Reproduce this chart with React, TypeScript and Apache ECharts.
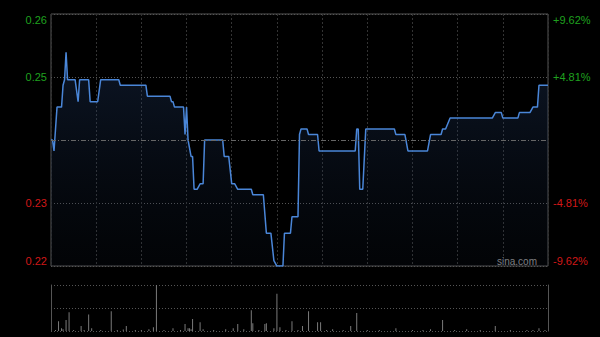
import React, { useEffect, useRef } from "react";
import * as echarts from "echarts";

// Price data: minute index from 9:30 (0..330, lunch break removed) and price
const minutes = [0, 1, 2, 4, 7, 8, 9, 10, 11, 16, 18, 19, 25, 26, 31, 33, 45, 46, 63, 64, 79, 80, 81, 82, 88, 89, 90, 91, 93, 94, 95, 97, 99, 101, 102, 114, 115, 118, 120, 122, 124, 133, 134, 141, 143, 146, 148, 150, 154, 155, 159, 160, 164, 165, 166, 170, 171, 177, 178, 202, 203, 204, 205, 207, 209, 228, 229, 235, 237, 250, 252, 259, 260, 262, 265, 293, 295, 299, 300, 310, 311, 318, 320, 323, 324, 330];
const prices = [0.239, 0.239, 0.237, 0.245, 0.245, 0.249, 0.25, 0.255, 0.25, 0.25, 0.246, 0.25, 0.25, 0.246, 0.246, 0.25, 0.25, 0.249, 0.249, 0.247, 0.247, 0.246, 0.246, 0.245, 0.245, 0.24, 0.245, 0.239, 0.236, 0.236, 0.23, 0.23, 0.231, 0.231, 0.239, 0.239, 0.236, 0.236, 0.231, 0.231, 0.23, 0.23, 0.229, 0.229, 0.222, 0.222, 0.217, 0.216, 0.216, 0.222, 0.222, 0.225, 0.225, 0.24, 0.241, 0.241, 0.24, 0.24, 0.237, 0.237, 0.241, 0.241, 0.23, 0.23, 0.241, 0.241, 0.24, 0.24, 0.237, 0.237, 0.24, 0.24, 0.241, 0.241, 0.243, 0.243, 0.244, 0.244, 0.243, 0.243, 0.244, 0.244, 0.245, 0.245, 0.249, 0.249];

// Volume data (relative units), minute index and volume
const volMinutes = [3, 5, 7, 8, 10, 12, 15, 20, 22, 25, 27, 33, 40, 44, 48, 50, 56, 60, 65, 68, 70, 75, 81, 86, 89, 91, 92, 93, 94, 99, 101, 108, 116, 121, 124, 128, 133, 134, 138, 142, 143, 148, 150, 152, 156, 160, 164, 167, 171, 177, 179, 183, 187, 194, 199, 203, 210, 218, 229, 240, 247, 252, 260, 268, 276, 285, 295, 305, 316, 320, 324, 328];
const volumes = [2, 21, 6, 4, 24, 41, 2, 11, 2, 36, 6, 2, 43, 2, 3, 11, 2, 2, 4, 8, 100, 2, 6, 2, 15, 6, 6, 4, 26, 19, 4, 2, 4, 6, 15, 4, 45, 17, 2, 15, 17, 6, 81, 8, 2, 21, 2, 11, 43, 19, 19, 2, 4, 2, 11, 39, 2, 2, 6, 2, 2, 4, 24, 2, 4, 2, 11, 2, 2, 2, 6, 2];

const prevClose = 0.239;
const pctRange = 9.62;
const pctStep = 4.81;

const toPct = (p: number) => (p / prevClose - 1) * 100;

export default function App() {
  const ref = useRef<HTMLDivElement>(null);
  useEffect(() => {
    if (!ref.current) return;
    const chart = echarts.init(ref.current, null, { renderer: "svg" });
    const font = "Arial, 'Liberation Sans', sans-serif";
    const labelColor = (v: any) => {
      const n = Number(v);
      return n > 0.001 ? "#1fa01f" : n < -0.001 ? "#d01818" : "transparent";
    };
    chart.setOption({
      animation: false,
      backgroundColor: "#000",
      grid: [
        { left: 51, right: 52, top: 14, bottom: 71, show: true, borderColor: "#555", borderWidth: 1, backgroundColor: "transparent" },
        { left: 51, right: 52, top: 285, bottom: 6 },
      ],
      xAxis: [
        {
          type: "value", gridIndex: 0, min: 0, max: 330, interval: 30,
          axisLine: { show: false }, axisTick: { show: false }, axisLabel: { show: false },
          splitLine: { show: true, lineStyle: { color: "#333", type: [2, 2], width: 1 } },
        },
        {
          type: "value", gridIndex: 1, min: 0, max: 330, interval: 30,
          axisLine: { show: false }, axisTick: { show: false }, axisLabel: { show: false },
          splitLine: { show: false },
        },
      ],
      yAxis: [
        {
          type: "value", gridIndex: 0, min: -pctRange, max: pctRange, interval: pctStep,
          axisLine: { show: false }, axisTick: { show: false },
          splitLine: { show: true, lineStyle: { color: ["#555", "#555", "rgba(0,0,0,0)", "#555", "#555"], type: [1, 2], width: 1 } },
          axisLabel: {
            show: true, margin: 4, fontSize: 11, fontFamily: font,
            verticalAlignMaxLabel: "top", verticalAlignMinLabel: "bottom",
            color: labelColor,
            formatter: (v: number) => (Math.abs(v) < 0.001 ? "" : (prevClose * (1 + v / 100)).toFixed(2)),
          },
        },
        {
          type: "value", gridIndex: 0, position: "right", min: -pctRange, max: pctRange, interval: pctStep,
          axisLine: { show: false }, axisTick: { show: false }, splitLine: { show: false },
          axisLabel: {
            show: true, margin: 5, fontSize: 11, fontFamily: font,
            verticalAlignMaxLabel: "top", verticalAlignMinLabel: "bottom",
            color: labelColor,
            formatter: (v: number) => (Math.abs(v) < 0.001 ? "" : (v > 0 ? "+" : "") + v.toFixed(2) + "%"),
          },
        },
        {
          type: "value", gridIndex: 1, min: 0, max: 100, interval: 50,
          axisLine: { show: true, lineStyle: { color: "#555" } }, axisTick: { show: false }, axisLabel: { show: false },
          splitLine: { show: true, lineStyle: { color: "#555", type: [1, 2] } },
        },
        {
          type: "value", gridIndex: 1, position: "right", min: 0, max: 100, interval: 50,
          axisLine: { show: true, lineStyle: { color: "#555" } }, axisTick: { show: false }, axisLabel: { show: false },
          splitLine: { show: false },
        },
      ],
      graphic: [
        { type: "text", right: 63, top: 256, style: { text: "sina.com", fill: "#8a8a8a", font: "10px Arial, 'Liberation Sans', sans-serif" } },
      ],
      series: [
        {
          type: "line", xAxisIndex: 0, yAxisIndex: 0, symbol: "none",
          data: minutes.map((t, i) => [t, toPct(prices[i])]),
          lineStyle: { color: "#4a86d8", width: 1.5 },
          areaStyle: {
            origin: "start",
            color: new echarts.graphic.LinearGradient(0, 0, 0, 1, [
              { offset: 0, color: "rgba(40,70,120,0.45)" },
              { offset: 1, color: "rgba(20,35,60,0.15)" },
            ]),
          },
          markLine: {
            silent: true, symbol: "none", label: { show: false },
            lineStyle: { color: "#666", type: [5, 2, 1, 2], width: 1 },
            data: [{ yAxis: 0 }],
          },
        },
        {
          type: "bar", xAxisIndex: 1, yAxisIndex: 2, barWidth: 1,
          data: volMinutes.map((t, i) => [t, volumes[i]]),
          itemStyle: { color: "#7a7a7a" },
        },
      ],
    });
    return () => chart.dispose();
  }, []);
  return <div ref={ref} style={{ position: "fixed", left: 0, top: 0, width: 600, height: 337, background: "#000" }} />;
}
